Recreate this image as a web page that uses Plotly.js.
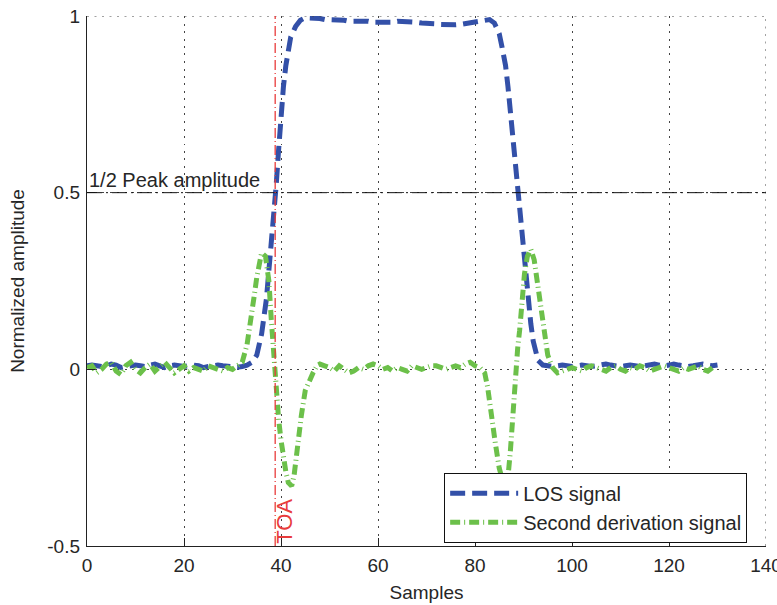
<!DOCTYPE html>
<html>
<head>
<meta charset="utf-8">
<script src="https://cdn.plot.ly/plotly-3.0.1.min.js"></script>
<style>
  html, body { margin: 0; padding: 0; background: #ffffff; }
  #chart { width: 777px; height: 605px; }
</style>
</head>
<body>
<div id="chart"></div>
<script>
// LOS signal (normalized amplitude per sample)
const losX = [
  0,1,2,3,4,5,6,7,8,9,10,11,12,13,14,15,16,17,18,19,20,21,22,23,24,25,26,27,28,29,30,31,32,33,34,
  35,36,37,37.5,38,38.5,39,39.5,40,40.5,41,41.5,42,43,44,
  45,46,47,48,49,50,51,52,53,54,55,56,57,58,59,60,61,62,63,64,65,66,67,68,69,70,71,72,73,74,75,76,77,78,79,80,81,82,83,
  84,85,85.6,86.3,86.8,87.2,87.6,88.1,88.5,89,89.5,90,90.5,91,91.5,92,92.5,93,94,
  95,96,97,98,99,100,101,102,103,104,105,106,107,108,109,110,111,112,113,114,115,116,117,118,119,120,121,122,123,124,125,126,127,128,129,130
];
const losY = [
  0.010,0.012,0.010,0.008,0.010,0.015,0.012,0.005,0.008,0.010,0.012,0.010,0.008,0.012,0.015,0.010,0.005,0.010,0.012,0.010,0.008,0.010,0.012,0.010,0.005,0.008,0.010,0.012,0.010,0.008,0.005,0.006,0.008,0.012,0.020,
  0.040,0.100,0.200,0.280,0.350,0.430,0.520,0.620,0.720,0.800,0.860,0.910,0.940,0.970,0.988,
  0.995,0.995,0.995,0.993,0.990,0.990,0.990,0.990,0.988,0.985,0.985,0.988,0.985,0.985,0.982,0.982,0.980,0.980,0.982,0.985,0.985,0.985,0.983,0.982,0.980,0.980,0.980,0.978,0.976,0.975,0.975,0.975,0.976,0.978,0.980,0.982,0.985,0.988,0.990,
  0.980,0.950,0.910,0.860,0.800,0.740,0.680,0.620,0.550,0.480,0.400,0.330,0.260,0.200,0.130,0.080,0.045,0.025,0.012,
  0.010,0.008,0.010,0.012,0.010,0.008,0.010,0.012,0.010,0.008,0.010,0.012,0.015,0.012,0.010,0.008,0.010,0.012,0.010,0.008,0.010,0.012,0.015,0.012,0.010,0.012,0.015,0.012,0.010,0.008,0.010,0.012,0.015,0.012,0.010,0.012
];

// Second derivation signal
const derX = [
  0,1,2,3,4,5,6,7,8,9,10,11,12,13,14,15,16,17,18,19,20,21,22,23,24,25,26,27,28,29,30,31,
  32,33,34,34.5,35,35.5,36,36.8,37.5,38,38.5,39,39.5,40,40.5,41,41.5,42.2,42.7,43.2,43.7,44.2,45,45.8,46.6,47.5,
  48,49,50,51,52,53,54,55,56,57,58,59,60,61,62,63,64,65,66,67,68,69,70,71,72,73,74,75,76,77,78,79,80,81,
  82,82.6,83.3,84.2,85,85.8,86.4,86.9,87.3,87.7,88,88.4,88.8,89.2,89.6,90.2,90.8,91.5,92.2,92.8,93.5,94.3,95,96,97,98,
  99,100,101,102,103,104,105,106,107,108,109,110,111,112,113,114,115,116,117,118,119,120,121,122,123,124,125,126,127,128,129,129.5
];
const derY = [
  0.005,0.010,-0.010,0.000,0.015,0.020,-0.005,-0.015,0.010,0.020,0.000,-0.010,0.005,0.015,-0.005,0.010,0.020,0.005,-0.010,0.000,0.010,-0.005,0.005,0.000,-0.005,0.010,0.005,0.000,-0.005,0.005,0.000,0.010,
  0.020,0.070,0.150,0.210,0.260,0.300,0.330,0.320,0.250,0.140,0.030,-0.060,-0.140,-0.200,-0.250,-0.290,-0.320,-0.330,-0.300,-0.240,-0.180,-0.130,-0.060,-0.030,-0.010,0.012,
  0.015,0.010,0.005,-0.005,0.010,0.000,-0.010,-0.005,0.005,0.000,0.010,0.015,0.010,0.000,0.005,-0.005,0.005,0.000,-0.005,0.010,0.005,0.000,0.005,0.010,0.010,0.005,0.000,0.005,0.010,0.005,0.015,0.020,0.010,0.005,
  -0.010,-0.050,-0.130,-0.210,-0.280,-0.320,-0.330,-0.290,-0.230,-0.150,-0.070,0.000,0.060,0.110,0.190,0.270,0.320,0.340,0.310,0.250,0.170,0.090,0.040,0.005,-0.010,-0.005,
  0.000,0.005,0.000,-0.005,0.005,0.010,0.005,0.000,-0.005,0.005,0.010,0.000,-0.005,0.005,0.000,0.010,0.005,-0.005,0.000,0.005,0.010,0.005,0.000,-0.005,0.005,0.000,0.005,0.010,0.000,-0.005,0.005,0.000
];

// Reference levels and markers
const halfPeak = 0.5;
const toaSample = 38.8;

// Axis ticks
const xTicks = [0, 20, 40, 60, 80, 100, 120, 140];
const yTicks = [-0.5, 0, 0.5, 1];
const yTickText = ['-0.5', '0', '0.5', '1'];
const xMax = 140, yMin = -0.5, yMax = 1;

const FONT = 'Liberation Sans, Arial, Helvetica, sans-serif';
const INK = '#262626';
const GRID_DASH = '2px,5.5px';

const traces = [
  {
    x: losX, y: losY, type: 'scatter', mode: 'lines', name: 'LOS signal',
    line: { color: '#3350A8', width: 5, dash: '15px,7px' }
  },
  {
    x: derX, y: derY, type: 'scatter', mode: 'lines', name: 'Second derivation signal',
    line: { color: '#6CC04A', width: 5, dash: '10px,4px,1px,4px' }
  }
];

const layout = {
  width: 777, height: 605,
  margin: { l: 87, r: 11, t: 16, b: 59 },
  paper_bgcolor: '#ffffff', plot_bgcolor: '#ffffff',
  font: { family: FONT, size: 19, color: INK },
  showlegend: true,
  xaxis: {
    range: [0, xMax], tickvals: xTicks, ticktext: xTicks.map(String),
    showline: true, linecolor: '#222', linewidth: 1.2,
    ticks: 'inside', ticklen: 8, tickcolor: '#222', tickwidth: 1,
    showgrid: true, gridcolor: '#444', gridwidth: 1, griddash: GRID_DASH,
    zeroline: false, ticklabeloverflow: 'allow', ticklabelstandoff: 2,
    tickfont: { family: FONT, size: 19, color: INK },
    title: { text: 'Samples', font: { family: FONT, size: 19, color: INK }, standoff: 10 }
  },
  yaxis: {
    range: [yMin, yMax], tickvals: yTicks, ticktext: yTickText,
    showline: true, linecolor: '#222', linewidth: 1.2,
    ticks: 'inside', ticklen: 8, tickcolor: '#222', tickwidth: 1,
    showgrid: true, gridcolor: '#444', gridwidth: 1, griddash: GRID_DASH,
    zeroline: false, ticklabelstandoff: 2,
    tickfont: { family: FONT, size: 19, color: INK },
    title: { text: 'Normalized amplitude', font: { family: FONT, size: 19, color: INK }, standoff: 17 }
  },
  legend: {
    x: 0.526, y: 0.138, xanchor: 'left', yanchor: 'top',
    bgcolor: '#ffffff', bordercolor: '#111', borderwidth: 1,
    font: { family: FONT, size: 20, color: INK },
    itemwidth: 68
  },
  shapes: [
    // dotted grid along the top and right edges of the plot frame
    {
      type: 'line', xref: 'x', yref: 'y', x0: 0, x1: xMax, y0: yMax, y1: yMax,
      line: { color: '#444', width: 1, dash: GRID_DASH }
    },
    {
      type: 'line', xref: 'x', yref: 'y', x0: xMax, x1: xMax, y0: yMin, y1: yMax,
      line: { color: '#444', width: 1, dash: GRID_DASH }
    },
    {
      type: 'line', xref: 'x', yref: 'y', x0: 0, x1: xMax, y0: halfPeak, y1: halfPeak,
      line: { color: '#111', width: 1, dash: '15px,4px,2px,4px' }
    },
    {
      type: 'line', xref: 'x', yref: 'y', x0: toaSample, x1: toaSample, y0: yMin, y1: yMax,
      line: { color: '#E83C3C', width: 1.3, dash: '10px,3px,1px,3px' }
    }
  ],
  annotations: [
    {
      x: 0, y: halfPeak, xref: 'x', yref: 'y', xanchor: 'left', yanchor: 'bottom',
      text: '1/2 Peak amplitude', showarrow: false, xshift: 0, yshift: 0,
      font: { family: FONT, size: 20, color: INK }
    },
    {
      x: toaSample, y: yMin, xref: 'x', yref: 'y', xanchor: 'center', yanchor: 'bottom',
      text: 'TOA', showarrow: false, textangle: -90, xshift: 9, yshift: 0,
      font: { family: FONT, size: 22, color: '#E83C3C' }
    }
  ]
};

Plotly.newPlot('chart', traces, layout, { displayModeBar: false, staticPlot: true });
</script>
</body>
</html>
